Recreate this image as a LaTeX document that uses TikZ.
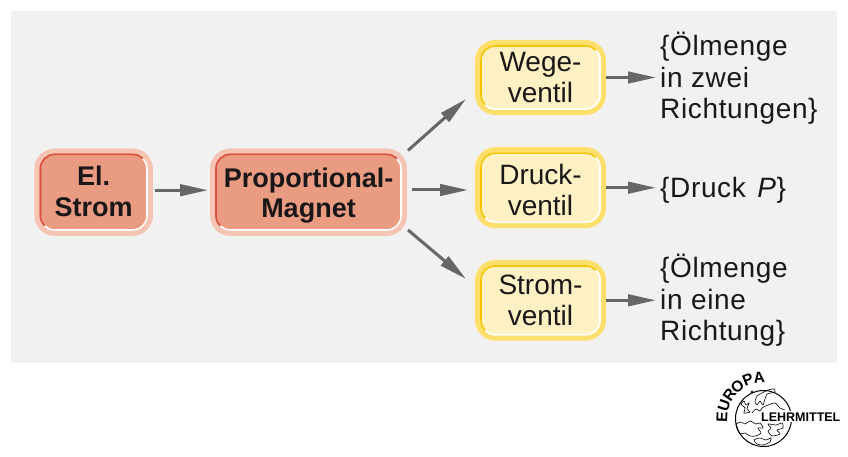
\documentclass[tikz,border=0pt]{standalone}
\usepackage{fontspec}
\setmainfont{Liberation Sans}
\usetikzlibrary{arrows.meta}
\definecolor{bggray}{HTML}{F1F1F1}
\definecolor{redfill}{HTML}{EA9C82}
\definecolor{redhalo}{HTML}{F5C4B2}
\definecolor{rededge}{HTML}{D9503C}
\definecolor{yelfill}{HTML}{FFF1C4}
\definecolor{yelhalo}{HTML}{FFDF6C}
\definecolor{yeledge}{HTML}{F5C400}
\definecolor{arrgray}{HTML}{666666}
\definecolor{txtblack}{HTML}{1A1718}
\tikzset{
	box/.style={rectangle,rounded corners=18pt,line width=5pt,align=center,inner sep=0pt,text=txtblack,text depth=0pt,font=\fontsize{28}{31}\selectfont},
	redbox/.style={box,draw=redhalo,fill=redfill,font=\fontsize{27}{31}\selectfont\bfseries},
	yelbox/.style={box,draw=yelhalo,fill=yelfill},
	result/.style={anchor=west,align=left,inner sep=0pt,text=txtblack,font=\fontsize{28}{31.5}\selectfont\addfontfeature{LetterSpace=2.3}},
	flow/.style={draw=arrgray,line width=3pt,-{Triangle[length=28pt,width=11.5pt]}},
	edge/.style={line width=1.6pt},
	coast/.style={line width=0.6pt,smooth,tension=0.4}
}
\begin{document}
\begin{tikzpicture}[x=1pt,y=-1pt]
	\useasboundingbox (0,0) rectangle (848,457);
	\fill [bggray] (11,11) rectangle (837,363);
	\node [redbox,minimum width=113.5pt,minimum height=82.5pt,text height=47.6pt] (elstrom) at (93.7,192.2) {El.\\Strom};
	\node [redbox,minimum width=192pt,minimum height=82.5pt,text height=51.6pt] (propmag) at (308.5,192.2) {Proportional-\\Magnet};
	\node [yelbox,minimum width=126pt,minimum height=70pt,text height=49.6pt] (wege) at (540.5,77.5) {Wege-\\ventil};
	\node [yelbox,minimum width=126pt,minimum height=76pt,text height=56pt] (druck) at (540.5,187.7) {Druck-\\ventil};
	\node [yelbox,minimum width=126pt,minimum height=75.7pt,text height=50pt] (strom) at (540.5,300.3) {Strom-\\ventil};
	\node [result] (wegeres) at (660,78.5) {\{Ölmenge\\in zwei\\Richtungen\}};
	\node [result] (druckres) at (660,190.5) {\{Druck\kern3pt\ \textit{P}\}};
	\node [result] (stromres) at (660,300.5) {\{Ölmenge\\in eine\\Richtung\}};
	\foreach \n/\c in {elstrom/rededge,propmag/rededge,wege/yeledge,druck/yeledge,strom/yeledge} {
		\draw [white,edge,rounded corners=14pt] ([shift={(-6,20)}]\n.north east) -- ([shift={(-6,-6)}]\n.south east) -- ([shift={(20,-6)}]\n.south west);
		\draw [white,edge] ([shift={(-10.1,10.1)}]\n.north east) .. controls ([shift={(-7.5,12.7)}]\n.north east) and ([shift={(-6,16.3)}]\n.north east) .. ([shift={(-6,20)}]\n.north east);
		\draw [white,edge] ([shift={(20,-6)}]\n.south west) .. controls ([shift={(16.3,-6)}]\n.south west) and ([shift={(12.7,-7.5)}]\n.south west) .. ([shift={(10.1,-10.1)}]\n.south west);
		\draw [\c,edge,rounded corners=14pt] ([shift={(6,-20)}]\n.south west) -- ([shift={(6,6)}]\n.north west) -- ([shift={(-20,6)}]\n.north east);
		\draw [\c,edge] ([shift={(10.1,-10.1)}]\n.south west) .. controls ([shift={(7.5,-12.7)}]\n.south west) and ([shift={(6,-16.3)}]\n.south west) .. ([shift={(6,-20)}]\n.south west);
		\draw [\c,edge] ([shift={(-20,6)}]\n.north east) .. controls ([shift={(-16.3,6)}]\n.north east) and ([shift={(-12.7,7.5)}]\n.north east) .. ([shift={(-10.1,10.1)}]\n.north east);
	}
	\draw [flow] ([shift={(2,-2)}]elstrom.east) -- ([shift={(-2,-2)}]propmag.west);
	\draw [flow] ([shift={(1,2)}]propmag.north east) -- ([shift={(-9,-16)}]wege.south west);
	\draw [flow] ([shift={(5,-2.2)}]propmag.east) -- ([shift={(-7,2.3)}]druck.west);
	\draw [flow] ([shift={(1,-6)}]propmag.south east) -- ([shift={(-9,19)}]strom.north west);
	\draw [flow] (wege.east) -- ([xshift=-4pt]wege.east -| wegeres.west);
	\draw [flow] (druck.east) -- ([xshift=-4pt]druck.east -| druckres.west);
	\draw [flow] (strom.east) -- ([xshift=-4pt]strom.east -| stromres.west);
	\draw [black,line width=1pt] (763.5,418.5) circle (28);
	\draw [coast] plot [smooth cycle] coordinates {(755,402) (757,396) (762,393) (768,390) (774,389) (775,392) (771,393) (767,394) (765,399) (763,405) (760,401) (757,405)};
	\draw [coast] plot [smooth cycle] coordinates {(741,404) (744,401) (746,405) (749,403) (747,409) (750,412) (744,413) (745,408)};
	\draw [line width=0.6pt] (752,392) circle (1.3);
	\draw [coast] plot coordinates {(752,413) (756,409) (760,411) (762,408) (768,405) (775,403) (780,408) (785,410)};
	\draw [coast] plot [smooth cycle] coordinates {(736,424) (741,422) (745,424) (750,421) (756,424) (760,423) (763,428) (758,428) (761,433) (756,436) (750,436) (745,433) (740,434) (737,429)};
	\draw [coast] plot [smooth cycle] coordinates {(768,424) (776,425) (782,423) (783,428) (777,430) (780,434) (772,436) (768,431) (771,428)};
	\draw [coast] plot [smooth cycle] coordinates {(754,440) (760,438) (766,440) (771,438) (770,442) (763,445) (757,444)};
	\node [inner sep=1pt,fill=white,anchor=base west,font=\fontsize{12.5}{12.5}\selectfont\bfseries] (logotext) at (760,421) {LEHRMITTEL};
	\foreach \c/\a in {E/178,U/161.6,R/145,O/129,P/112,A/96} {
		\node [inner sep=0pt,font=\fontsize{15.5}{15.5}\selectfont\bfseries,rotate=\a-90] (logo\c) at ({763.5+cos(\a)*41.5},{418.5-sin(\a)*41.5}) {\c};
	}
\end{tikzpicture}
\end{document}
